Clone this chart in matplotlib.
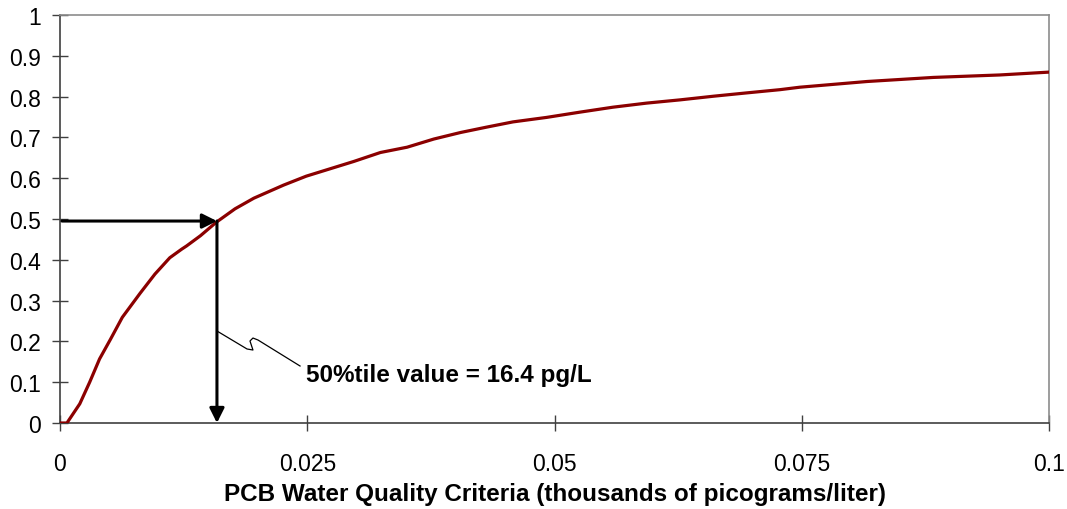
import matplotlib.pyplot as plt
from matplotlib.ticker import FuncFormatter

plt.rcParams['font.family'] = ['Liberation Sans', 'DejaVu Sans']

# cumulative probability curve
wqc_x = [0, 0.0007, 0.0020, 0.0030, 0.0040, 0.0051, 0.0063, 0.0081, 0.0096,
         0.0111, 0.0123, 0.0128, 0.0142, 0.0158, 0.0177, 0.0196, 0.0226,
         0.0249, 0.0273, 0.0297, 0.0324, 0.0351, 0.0378, 0.0405, 0.0431,
         0.0458, 0.0492, 0.0526, 0.0559, 0.0593, 0.0627, 0.0661, 0.0694,
         0.0728, 0.0748, 0.0816, 0.0883, 0.0950, 0.1]
cum_prob = [0, 0, 0.047, 0.100, 0.157, 0.205, 0.259, 0.318, 0.365,
            0.405, 0.426, 0.434, 0.459, 0.492, 0.525, 0.551, 0.583,
            0.605, 0.623, 0.641, 0.663, 0.676, 0.696, 0.712, 0.725,
            0.738, 0.749, 0.762, 0.774, 0.784, 0.792, 0.801, 0.809,
            0.817, 0.823, 0.837, 0.847, 0.853, 0.860]

x_ticks = [0, 0.025, 0.05, 0.075, 0.1]
y_ticks = [0, 0.1, 0.2, 0.3, 0.4, 0.5, 0.6, 0.7, 0.8, 0.9, 1]

p50_x = 0.01587
p50_y = 0.495
note = '50%tile value = 16.4 pg/L'

fig = plt.figure(figsize=(10.67, 5.1), dpi=100)
ax = fig.add_axes([60/1067, 86/510, 989/1067, 408/510])

ax.plot(wqc_x, cum_prob, color='#8B0000', lw=2.3, zorder=3,
        solid_joinstyle='round')

ax.set_xlim(0, 0.1)
ax.set_ylim(0, 1)
ax.set_xticks(x_ticks)
ax.set_yticks(y_ticks)
fmt = FuncFormatter(lambda v, p: '%g' % v)
ax.xaxis.set_major_formatter(fmt)
ax.yaxis.set_major_formatter(fmt)
ax.tick_params(direction='inout', length=11.5, width=1, color='#404040',
               labelsize=16.5, colors='black')
ax.tick_params(axis='x', pad=15)
ax.tick_params(axis='y', pad=8)
ax.tick_params(colors='#404040', labelcolor='black')
for s in ['left', 'bottom']:
    ax.spines[s].set_color('#404040')
    ax.spines[s].set_linewidth(1.2)
for s in ['top', 'right']:
    ax.spines[s].set_color('#8c8c8c')
    ax.spines[s].set_linewidth(1.2)

ax.set_xlabel('PCB Water Quality Criteria (thousands of picograms/liter)',
              fontsize=17.5, fontweight='bold', labelpad=5)

# arrows to the 50th percentile
arr = dict(arrowstyle='-|>', lw=2.2, color='black', mutation_scale=22,
           shrinkA=0, shrinkB=0)
ax.annotate('', xy=(p50_x, p50_y), xytext=(0.0002, p50_y), arrowprops=arr,
            zorder=4)
ax.annotate('', xy=(p50_x, 0.0), xytext=(p50_x, p50_y), arrowprops=arr,
            zorder=4)

# callout squiggle
cx = [p50_x, 0.01891, 0.01951, 0.01921, 0.01951, 0.02002, 0.02427]
cy = [0.2255, 0.1814, 0.1789, 0.2010, 0.2083, 0.2034, 0.1397]
ax.plot(cx, cy, color='black', lw=0.9, zorder=4, solid_joinstyle='round')
ax.text(0.0249, 0.118, note, fontsize=17.5, fontweight='bold',
        ha='left', va='center')

fig.savefig('out.png', dpi=100)
